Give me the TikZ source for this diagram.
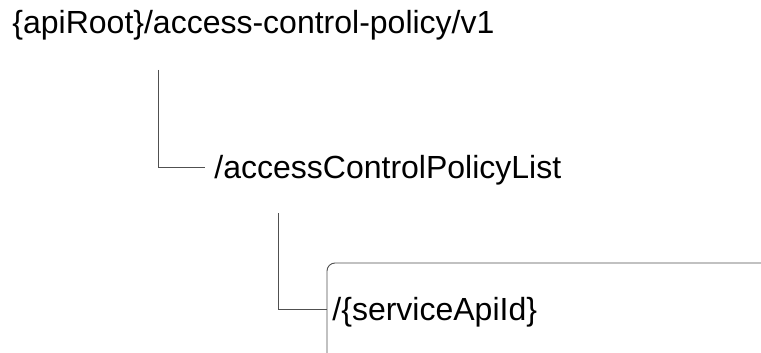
\documentclass[tikz,border=0pt]{standalone}
\usepackage{fontspec}
\setmainfont{Liberation Sans}
\usetikzlibrary{positioning}
\definecolor{treeline}{RGB}{80,80,80}

\begin{document}
\begin{tikzpicture}[x=1pt,y=-1pt,line width=0.9pt,
  res/.style={inner sep=0pt,text height=23pt,text depth=0pt,font=\fontsize{32}{37}\selectfont},
  branch/.style={draw=treeline}]
  \useasboundingbox (0,0) rectangle (761,353);

  \node[res,anchor=west] (root) at (12,22) {\{apiRoot\}/access-control-policy/v1};
  \node[res,anchor=west] (list) at (214,167) {/accessControlPolicyList};
  \node[res,anchor=west] (svc)  at (332,309) {/\{serviceApiId\}};

  \coordinate (t1) at (158,70);
  \coordinate (t2) at (278,213);
  \coordinate (l1) at (205,167);
  \coordinate (l2) at (327,309);

  % tree branches
  \path[branch] (t1) |- (l1)
                (t2) |- (l2);

  % resource box, runs off the page
  \draw[treeline] (327,353) -- (327,271) arc[start angle=180,end angle=270,radius=8] -- (761,263);
\end{tikzpicture}
\end{document}
